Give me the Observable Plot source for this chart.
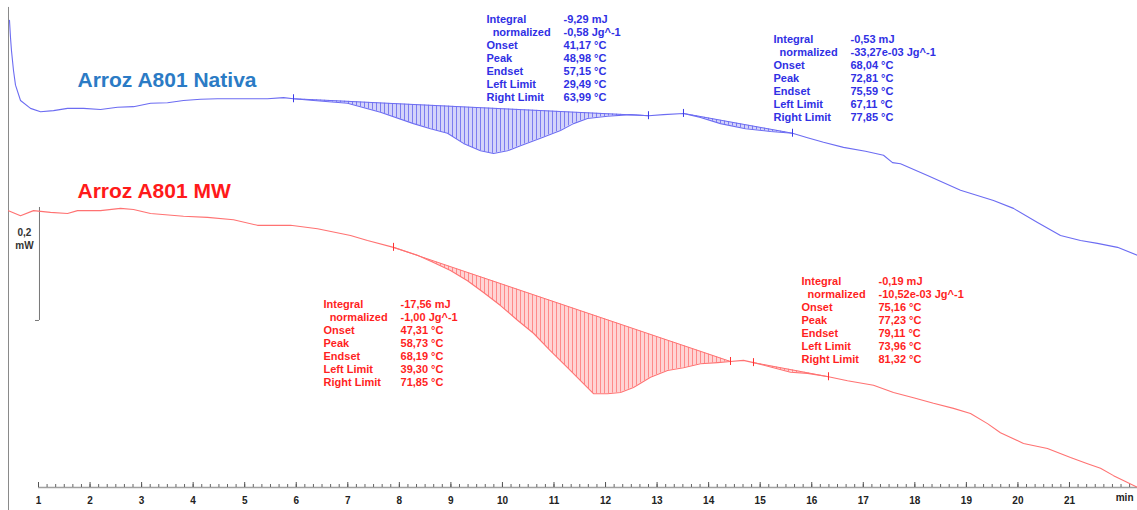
<!DOCTYPE html>
<html>
<head>
<meta charset="utf-8">
<script src="https://cdn.jsdelivr.net/npm/d3@7"></script>
<script src="https://cdn.jsdelivr.net/npm/@observablehq/plot@0.6"></script>
<style>
  html, body { margin: 0; padding: 0; background: #fff; }
  #chart svg { display: block; }
</style>
</head>
<body>
<div id="chart"></div>
<script>
// ---------------- data (time in min, heat flow in mW) ----------------
const seriesNames = ["Arroz A801 Nativa", "Arroz A801 MW"];

const blueTime = [0.437,0.457,0.476,0.515,0.554,0.651,0.845,1.039,1.291,1.563,1.873,2.203,2.533,2.843,3.173,3.502,3.813,4.143,4.472,4.783,5.113,5.442,5.753,5.947,6.335,6.994,7.634,8.275,8.604,8.934,9.244,9.574,9.827,10.098,10.350,10.738,11.126,11.378,11.650,12.038,12.484,12.833,13.124,13.512,13.842,14.230,14.715,15.200,15.627,15.918,16.228,16.616,17.043,17.392,17.567,17.722,18.246,18.886,19.526,19.914,20.380,20.826,21.214,21.543,21.932,22.320];
const blueFlow = [0.827,0.796,0.773,0.738,0.712,0.685,0.671,0.665,0.667,0.671,0.671,0.669,0.673,0.674,0.680,0.681,0.685,0.687,0.688,0.688,0.688,0.688,0.690,0.688,0.685,0.680,0.664,0.644,0.635,0.627,0.609,0.596,0.591,0.596,0.605,0.618,0.632,0.644,0.653,0.657,0.660,0.658,0.660,0.662,0.655,0.644,0.635,0.630,0.627,0.619,0.611,0.602,0.595,0.588,0.575,0.573,0.552,0.526,0.508,0.494,0.469,0.446,0.437,0.432,0.425,0.411];

const redTime = [0.418,0.651,0.903,1.233,1.563,1.757,2.203,2.591,2.843,3.173,3.813,4.278,4.783,5.248,5.889,6.412,7.053,7.382,7.887,8.352,8.663,8.992,9.322,9.633,9.962,10.292,10.602,10.932,11.262,11.572,11.766,12.038,12.290,12.542,12.872,13.202,13.512,13.842,14.172,14.424,14.676,14.870,15.258,15.588,15.918,16.325,16.694,17.198,17.586,17.974,18.362,18.750,19.080,19.410,19.661,20.108,20.573,21.020,21.350,21.602,21.855,22.126,22.320];
const redFlow = [0.490,0.481,0.490,0.487,0.485,0.490,0.490,0.494,0.492,0.485,0.480,0.478,0.474,0.464,0.464,0.458,0.446,0.437,0.425,0.411,0.398,0.384,0.366,0.345,0.322,0.296,0.273,0.242,0.212,0.184,0.166,0.166,0.168,0.177,0.195,0.207,0.212,0.219,0.221,0.223,0.225,0.221,0.212,0.204,0.202,0.196,0.189,0.181,0.168,0.159,0.149,0.140,0.131,0.113,0.097,0.078,0.069,0.053,0.042,0.034,0.021,0.009,0.000];

// integration limits (min)
const blueLimits = [[5.947, 12.833], [13.512, 15.627]];
const redLimits = [[7.887, 14.424], [14.870, 16.325]];

const resultLabels = ["Integral", "\u00a0\u00a0normalized", "Onset", "Peak", "Endset", "Left Limit", "Right Limit"];
const blueResults = [
  ["-9,29 mJ", "-0,58 Jg^-1", "41,17 °C", "48,98 °C", "57,15 °C", "29,49 °C", "63,99 °C"],
  ["-0,53 mJ", "-33,27e-03 Jg^-1", "68,04 °C", "72,81 °C", "75,59 °C", "67,11 °C", "77,85 °C"]
];
const redResults = [
  ["-17,56 mJ", "-1,00 Jg^-1", "47,31 °C", "58,73 °C", "68,19 °C", "39,30 °C", "71,85 °C"],
  ["-0,19 mJ", "-10,52e-03 Jg^-1", "75,16 °C", "77,23 °C", "79,11 °C", "73,96 °C", "81,32 °C"]
];

const tickLabels = ["1","2","3","4","5","6","7","8","9","10","11","12","13","14","15","16","17","18","19","20","21"];
const unitLabel = "min";
const scaleBarValue = 0.2;              // mW
const scaleBarLabel = ["0,2", "mW"];

// ---------------- helpers ----------------
const toPoints = (T, F) => T.map((t, i) => ({t, h: F[i]}));
const blue = toPoints(blueTime, blueFlow);
const red = toPoints(redTime, redFlow);

function segment(points, [ta, tb]) {
  const i0 = points.findIndex(p => Math.abs(p.t - ta) < 1e-6);
  const i1 = points.findIndex(p => Math.abs(p.t - tb) < 1e-6);
  const a = points[i0], b = points[i1];
  return points.slice(i0, i1 + 1).map(p => ({
    t: p.t, h: p.h, base: a.h + (b.h - a.h) * (p.t - a.t) / (b.t - a.t)
  }));
}
function limitPoints(points, limits) {
  return limits.flat().map(tl => points.find(p => Math.abs(p.t - tl) < 1e-6));
}
function baselines(points, limits) {
  return limits.map(([ta, tb]) => {
    const a = points.find(p => Math.abs(p.t - ta) < 1e-6);
    const b = points.find(p => Math.abs(p.t - tb) < 1e-6);
    return {t1: a.t, h1: a.h, t2: b.t, h2: b.h};
  });
}

const font = "Liberation Sans, Arial, sans-serif";
const blueLine = "#6c6cf2", blueText = "#3030e4", blueTitle = "#2b7bc5", blueMark = "#3a3ae8";
const redLine = "#ff7272", redText = "#ff1f1f", redTitle = "#ff1a1a", redMark = "#ff3030";

const minorTicks = d3.range(6, 134).map(i => i / 6);

const blocks = [
  {x: 9.691, y: 0.839, values: blueResults[0], color: blueText},
  {x: 15.258, y: 0.8035, values: blueResults[1], color: blueText},
  {x: 6.529, y: 0.3345, values: redResults[0], color: redText},
  {x: 15.801, y: 0.3752, values: redResults[1], color: redText}
];
const textStyle = {textAnchor: "start", lineAnchor: "top", fontSize: 11, fontWeight: "bold", lineHeight: 1.19, fontFamily: font};

const scaleBarX = 1.019, scaleBarBottom = 0.2956;

const marks = [
  // left frame line
  Plot.ruleX([0.418], {y1: 0.8496, y2: -0.0407, stroke: "#8a8a8a", strokeWidth: 1}),
  // x axis
  Plot.ruleY([0], {x1: 1, x2: 22.32, stroke: "#a0a0a0", strokeWidth: 1.4}),
  Plot.ruleX(minorTicks, {x: d => d, y1: 0, y2: 0, insetTop: -3, stroke: "#666", strokeWidth: 1}),
  Plot.ruleX(tickLabels, {x: d => +d, y1: 0, y2: 0, insetTop: -5, stroke: "#555", strokeWidth: 1}),
  Plot.text(tickLabels, {x: d => +d, y: 0, dy: 13, text: d => d, fontSize: 10, fontWeight: "bold", fill: "#222", fontFamily: font}),
  Plot.text([unitLabel], {frameAnchor: "bottom-right", dx: -4, dy: 13, textAnchor: "end", text: d => d, fontSize: 10, fontWeight: "bold", fill: "#222", fontFamily: font}),
  // scale bar
  Plot.ruleX([scaleBarX], {y1: scaleBarBottom, y2: scaleBarBottom + scaleBarValue, stroke: "#777", strokeWidth: 1}),
  Plot.ruleY([scaleBarBottom], {x1: 0.942, x2: scaleBarX, stroke: "#777", strokeWidth: 1}),
  Plot.text([scaleBarLabel.join("\n")], {x: 0.728, y: 0.4416, text: d => d, fontSize: 10, fontWeight: "bold", lineHeight: 1.3, fill: "#333", fontFamily: font}),
];

// hatched integrals
blueLimits.forEach(l => marks.push(Plot.areaY(segment(blue, l), {x: "t", y1: "base", y2: "h", fill: "url(#hatchBlue)"})));
redLimits.forEach(l => marks.push(Plot.areaY(segment(red, l), {x: "t", y1: "base", y2: "h", fill: "url(#hatchRed)"})));
marks.push(
  Plot.link(baselines(blue, blueLimits), {x1: "t1", y1: "h1", x2: "t2", y2: "h2", stroke: blueLine, strokeWidth: 1}),
  Plot.link(baselines(red, redLimits), {x1: "t1", y1: "h1", x2: "t2", y2: "h2", stroke: redLine, strokeWidth: 1}),
  Plot.line(blue, {x: "t", y: "h", stroke: blueLine, strokeWidth: 1.1}),
  Plot.line(red, {x: "t", y: "h", stroke: redLine, strokeWidth: 1.1}),
  Plot.ruleX(limitPoints(blue, blueLimits), {x: "t", y1: "h", y2: "h", insetTop: -4, insetBottom: -4, stroke: blueMark, strokeWidth: 1}),
  Plot.ruleX(limitPoints(red, redLimits), {x: "t", y1: "h", y2: "h", insetTop: -4, insetBottom: -4, stroke: redMark, strokeWidth: 1}),
  // series titles
  Plot.text([seriesNames[0]], {x: 1.757, y: 0.7216, text: d => d, textAnchor: "start", fontSize: 21, fontWeight: "bold", fill: blueTitle, fontFamily: font}),
  Plot.text([seriesNames[1]], {x: 1.757, y: 0.5251, text: d => d, textAnchor: "start", fontSize: 21, fontWeight: "bold", fill: redTitle, fontFamily: font})
);
blocks.forEach(b => {
  marks.push(
    Plot.text([resultLabels.join("\n")], {x: () => b.x, y: () => b.y, text: d => d, fill: b.color, ...textStyle}),
    Plot.text([b.values.join("\n")], {x: () => b.x, y: () => b.y, dx: 77, text: d => d, fill: b.color, ...textStyle})
  );
});

const svg = Plot.plot({
  width: 1137,
  height: 510,
  marginTop: 0,
  marginRight: 0,
  marginBottom: 23,
  marginLeft: 0,
  x: {domain: [0.2628, 22.3195], axis: null},
  y: {domain: [0, 0.8619], axis: null},
  style: {fontFamily: font, background: "#fff", overflow: "visible"},
  marks
});

// hatch patterns
const defs = d3.select(svg).insert("defs", ":first-child");
function hatch(id, bg, line) {
  const p = defs.append("pattern").attr("id", id).attr("patternUnits", "userSpaceOnUse").attr("width", 4).attr("height", 10);
  p.append("rect").attr("width", 4).attr("height", 10).attr("fill", bg);
  p.append("rect").attr("width", 1).attr("height", 10).attr("fill", line);
}
hatch("hatchBlue", "#d3d3fa", "#7c7cf0");
hatch("hatchRed", "#ffd4d4", "#ff8a8a");

document.getElementById("chart").appendChild(svg);
</script>
</body>
</html>
